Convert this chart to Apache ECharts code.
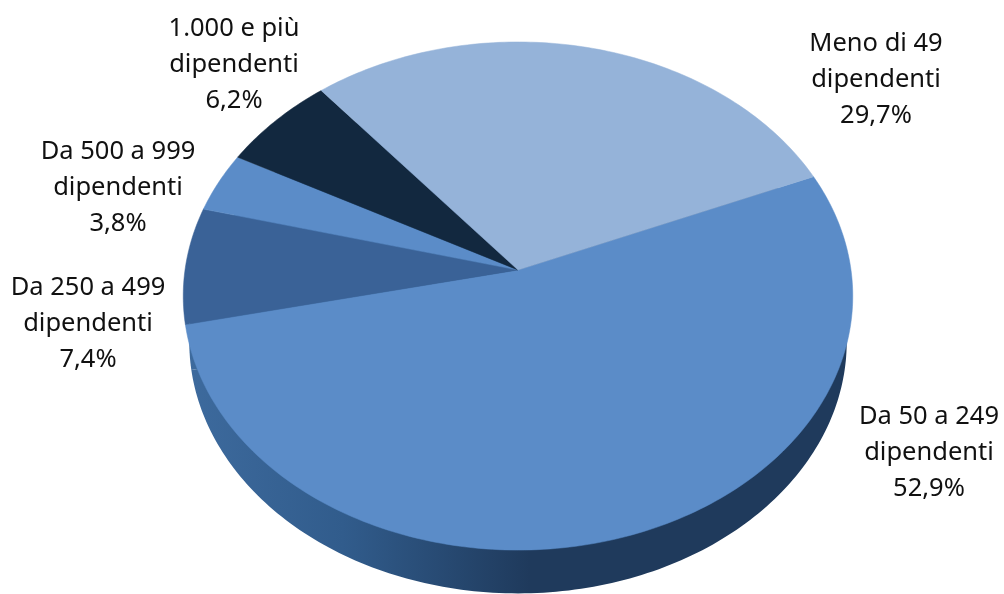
<!DOCTYPE html>
<html>
<head>
<meta charset="utf-8">
<style>html,body{margin:0;padding:0;background:#fff}#c{width:1004px;height:594px}</style>
<script src="https://cdn.jsdelivr.net/npm/echarts@6/dist/echarts.min.js"></script>
</head>
<body>
<div id="c"></div>
<script>
// Data, clockwise from the slice starting at the upper right
const categories = ['Da 50 a 249 dipendenti', 'Da 250 a 499 dipendenti', 'Da 500 a 999 dipendenti', '1.000 e più dipendenti', 'Meno di 49 dipendenti'];
const shares = [52.9, 7.4, 3.8, 6.2, 29.7];
const labelFirstLines = ['Da 50 a 249', 'Da 250 a 499', 'Da 500 a 999', '1.000 e più', 'Meno di 49'];

// Styles
const faceColors = ['#5b8cc8', '#3a6297', '#5b8cc8', '#12283f', '#95b3d9'];
const labelCenters = [[929, 416.5], [88, 287.5], [118, 151.5], [234, 28.5], [876, 43.5]];
const LINE = 36.2;
const START_DEG = 67.3;
// Perspective disc: top face and bottom rim
const TOP = {cx: 518, cy: 270, a: 333, b: 251.4, k: 0.1024};
const BOTTOM = {cx: 518, cy: 316, a: 327, b: 249, k: 0.1024};

const total = shares.reduce((s, v) => s + v, 0);
const startAngles = [];
shares.reduce((acc, v, i) => { startAngles[i] = acc; return acc + v; }, 0);

function project(d, deg) {
  const t = deg * Math.PI / 180, u = Math.sin(t), v = -Math.cos(t), w = 1 - d.k * v;
  return [d.cx + d.a * u / w, d.cy + d.b * v / w];
}
function slicePolygon(d, i, api) {
  const from = START_DEG + api.value(1) / total * 360;
  const sweep = api.value(0) / total * 360;
  const pts = [[d.cx, d.cy]];
  const n = Math.max(8, Math.ceil(sweep));
  for (let j = 0; j <= n; j++) pts.push(project(d, from + sweep * j / n));
  return pts;
}
const wallFill = new echarts.graphic.LinearGradient(190, 0, 530, 0, [
  {offset: 0, color: '#3d6a9d'},
  {offset: 0.45, color: '#315c8c'},
  {offset: 1, color: '#1f3a5c'}
], true);

const rows = shares.map((v, i) => [v, startAngles[i], i]);
const chart = echarts.init(document.getElementById('c'), null, {renderer: 'canvas'});
chart.setOption({
  animation: false,
  backgroundColor: '#fff',
  series: [
    {
      type: 'custom', coordinateSystem: 'none', silent: true, z: 1, data: rows,
      renderItem: (p, api) => ({
        type: 'polygon',
        shape: {points: slicePolygon(BOTTOM, p.dataIndex, api)},
        style: {fill: wallFill, stroke: null}
      })
    },
    {
      type: 'custom', coordinateSystem: 'none', silent: true, z: 2, data: rows,
      renderItem: (p, api) => ({
        type: 'polygon',
        shape: {points: slicePolygon(TOP, p.dataIndex, api)},
        style: {fill: faceColors[p.dataIndex], stroke: faceColors[p.dataIndex], lineWidth: 0.5}
      })
    },
    {
      type: 'custom', coordinateSystem: 'none', silent: true, z: 3, data: rows,
      renderItem: (p, api) => {
        const i = p.dataIndex, c = labelCenters[i];
        const lines = [labelFirstLines[i], 'dipendenti', api.value(0).toFixed(1).replace('.', ',') + '%'];
        return {
          type: 'group',
          children: lines.map((t, j) => ({
            type: 'text',
            x: c[0], y: c[1] + j * LINE,
            style: {text: t, fill: '#111', font: '25.5px "Noto Sans"', align: 'center', verticalAlign: 'middle'}
          }))
        };
      }
    }
  ]
});
</script>
</body>
</html>
